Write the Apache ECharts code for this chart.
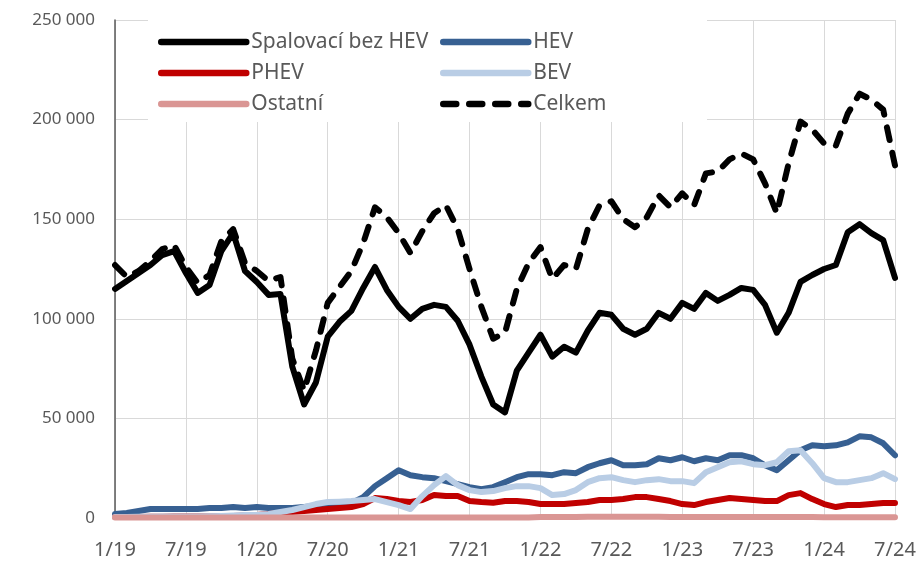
<!DOCTYPE html>
<html>
<head>
<meta charset="utf-8">
<script src="https://cdn.jsdelivr.net/npm/echarts@6/dist/echarts.min.js"></script>
<style>
html,body{margin:0;padding:0;background:#fff;}
#chart{width:922px;height:563px;}
</style>
</head>
<body>
<div id="chart"></div>
<script>
var categories = [
"1/19","2/19","3/19","4/19","5/19","6/19","7/19","8/19","9/19","10/19","11/19","12/19",
"1/20","2/20","3/20","4/20","5/20","6/20","7/20","8/20","9/20","10/20","11/20","12/20",
"1/21","2/21","3/21","4/21","5/21","6/21","7/21","8/21","9/21","10/21","11/21","12/21",
"1/22","2/22","3/22","4/22","5/22","6/22","7/22","8/22","9/22","10/22","11/22","12/22",
"1/23","2/23","3/23","4/23","5/23","6/23","7/23","8/23","9/23","10/23","11/23","12/23",
"1/24","2/24","3/24","4/24","5/24","6/24","7/24"];

var spalovaci = [
115000,119000,123000,127000,132000,134000,123000,113000,117000,134000,143000,124000,
118500,112000,112500,76000,57000,68000,91000,98500,104000,115500,126000,114500,
106000,100000,105000,107000,106000,99000,87000,71000,57000,53000,74000,83000,
92000,81000,86000,83000,94000,103000,102000,95000,92000,95000,103000,100000,
108000,105000,113000,109000,112000,115500,114500,107000,93000,103000,118500,122000,
125000,127000,143500,147500,143000,139500,120500];

var hev = [
2000,2500,3500,4500,4500,4500,4500,4500,5000,5000,5500,5000,
5500,5000,5000,5000,5500,6000,6500,7000,7500,10500,16000,20000,
24000,21500,20500,20000,18500,17000,15500,14500,15500,18000,20500,22000,
22000,21500,23000,22500,25500,27500,29000,26500,26500,27000,30000,29000,
30500,28500,30000,29000,31500,31500,30000,26500,24000,29000,34000,36500,
36000,36500,38000,41000,40500,37500,31500];

var phev = [
500,500,500,600,600,700,700,800,800,900,1000,1200,
1500,2000,2500,3000,3500,4000,4500,5000,5500,7000,10000,9500,
8500,8000,9000,11500,11000,11000,8500,8000,7700,8500,8500,8000,
7000,7000,7000,7500,8000,9000,9000,9500,10500,10500,9500,8500,
7000,6500,8000,9000,10000,9500,9000,8500,8500,11500,12500,9500,
7000,5500,6500,6500,7000,7500,7500];

var bev = [
500,500,600,600,700,700,800,800,900,1000,1200,1500,
1500,2000,3000,4000,5500,7000,8000,8200,8500,9000,9500,8000,
6500,4500,11000,16500,21000,16500,14000,13000,13500,15000,16000,16000,
15000,11500,12000,14000,18000,20000,20500,19000,18000,19000,19500,18500,
18500,17500,23000,25500,28000,28500,27000,26500,28000,33500,34000,27500,
20000,18000,18000,19000,20000,22500,19500];

var ostatni = [
200,200,200,200,200,200,200,200,200,200,200,200,
300,300,300,300,300,300,300,300,300,300,300,300,
300,300,300,300,300,300,300,300,300,300,300,300,
500,500,500,500,600,600,600,600,600,600,600,500,
500,500,500,500,500,500,500,500,500,500,500,500,
400,400,400,400,400,400,400];

var celkem = [
127000,121000,124000,129000,135000,137000,126000,118000,122000,139000,145000,128000,
124000,119000,121000,80000,64000,84000,108000,116000,124000,138000,156000,151000,
143000,133000,144000,153000,157000,145000,125000,106000,90000,93000,115000,128000,
136000,120000,127000,125000,145000,157000,159000,150000,146000,151000,162000,156000,
163000,157000,173000,174000,180000,183000,180000,168000,153000,178000,199000,195000,
188000,187000,203000,213000,210000,205000,177000];

var seriesNames = ["Spalovací bez HEV","HEV","PHEV","BEV","Ostatní","Celkem"];
var seriesColors = ["#000000","#376092","#C00000","#B9CDE5","#DA9694","#000000"];
var seriesData = [spalovaci, hev, phev, bev, ostatni, celkem];

var FONT = "Noto Sans";
var TXT = "#595959";

var series = seriesNames.map(function (name, k) {
  return {
    name: name,
    type: "line",
    data: seriesData[k],
    symbol: "none",
    showSymbol: false,
    smooth: false,
    z: 2 + k,
    lineStyle: {
      color: seriesColors[k],
      width: 6,
      type: k === 5 ? [13, 13] : "solid",
      cap: "round",
      join: "round"
    },
    itemStyle: { color: seriesColors[k] },
    emphasis: { disabled: true }
  };
});

var legendCommon = {
  orient: "vertical",
  top: 31,
  itemWidth: 85,
  itemHeight: 14,
  itemGap: 9,
  selectedMode: false,
  textStyle: { fontFamily: FONT, fontSize: 21, color: TXT, lineHeight: 22 },
  lineStyle: { width: 6.5, cap: "round" },
  itemStyle: { color: "rgba(0,0,0,0)", borderColor: "rgba(0,0,0,0)", borderWidth: 0, opacity: 0 },
  padding: 0
};

var chart = echarts.init(document.getElementById("chart"), null, { renderer: "canvas" });
chart.setOption({
  animation: false,
  backgroundColor: "#ffffff",
  grid: { left: 115, right: 27, top: 20, bottom: 45, containLabel: false },
  graphic: [{
    type: "rect",
    z: 1,
    shape: { x: 148, y: 20, width: 559, height: 102 },
    style: { fill: "#ffffff" },
    silent: true
  }],
  legend: [
    Object.assign({}, legendCommon, { left: 158, data: [seriesNames[0], seriesNames[2], seriesNames[4]] }),
    Object.assign({}, legendCommon, { left: 440, data: [seriesNames[1], seriesNames[3], seriesNames[5]] })
  ],
  xAxis: {
    type: "category",
    data: categories,
    boundaryGap: false,
    axisLine: { show: true, lineStyle: { color: "#D9D9D9", width: 1 } },
    axisTick: { show: false },
    axisLabel: {
      interval: function (i) { return i % 6 === 0; },
      fontFamily: FONT, fontSize: 20, color: TXT, margin: 22
    },
    splitLine: {
      show: true,
      interval: function (i) { return i % 6 === 0; },
      lineStyle: { color: "#D9D9D9", width: 1 }
    }
  },
  yAxis: {
    type: "value",
    min: 0,
    max: 250000,
    interval: 50000,
    axisLine: { show: true, lineStyle: { color: "#595959", width: 1.5 } },
    axisTick: { show: false },
    axisLabel: {
      fontFamily: FONT, fontSize: 17, color: TXT, margin: 20,
      formatter: function (v) { return v === 0 ? "0" : String(v).replace(/\B(?=(\d{3})+(?!\d))/g, " "); }
    },
    splitLine: { show: true, lineStyle: { color: "#D9D9D9", width: 1 } }
  },
  series: series
});
</script>
</body>
</html>
